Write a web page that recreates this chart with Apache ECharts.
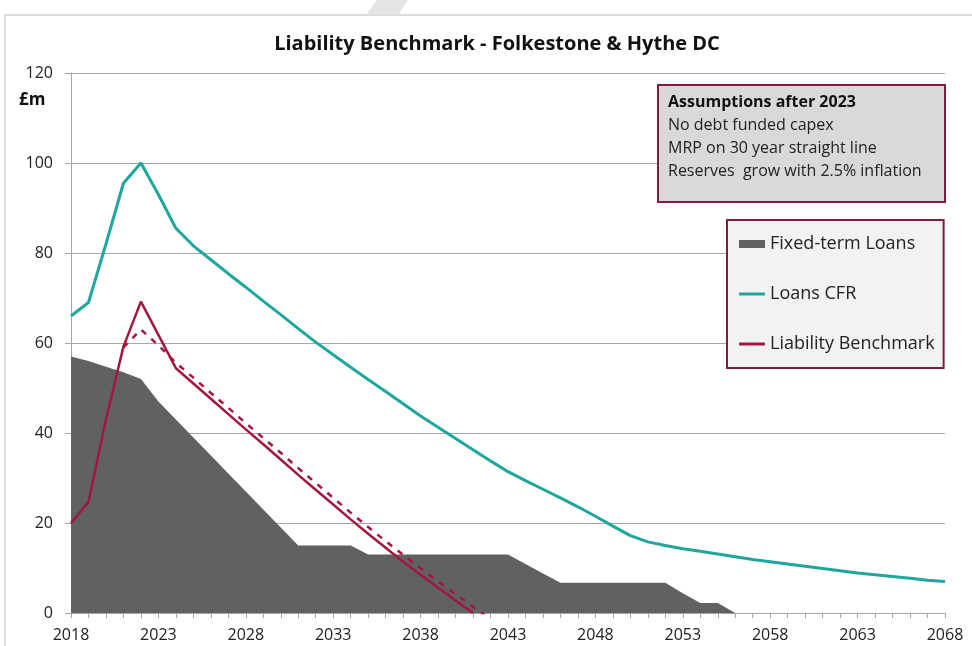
<!DOCTYPE html>
<html>
<head>
<meta charset="utf-8">
<script src="https://cdn.jsdelivr.net/npm/echarts@6/dist/echarts.min.js"></script>
<style>
    html, body { margin:0; padding:0; background:#fff; }
    #chart { width:972px; height:646px; }
</style>
</head>
<body>
<div id="chart"></div>
<script>
// years on the x axis
var years = ['2018','2019','2020','2021','2022','2023','2024','2025','2026','2027',
    '2028','2029','2030','2031','2032','2033','2034','2035','2036','2037',
    '2038','2039','2040','2041','2042','2043','2044','2045','2046','2047',
    '2048','2049','2050','2051','2052','2053','2054','2055','2056','2057',
    '2058','2059','2060','2061','2062','2063','2064','2065','2066','2067','2068']

// £m
var fixedLoans = [57,56,54.7,53.5,52,47,43,39,35,31,
    27,23,19,15,15,15,15,13,13,13,
    13,13,13,13,13,13,10.9,8.8,6.7,6.7,
    6.7,6.7,6.7,6.7,6.7,4.4,2.2,2.2,0,null,
    null,null,null,null,null,null,null,null,null,null,null]

var loansCFR = [66,69,82,95.5,100,93,85.5,81.6,78.5,75.4,
    72.4,69.3,66.3,63.2,60.2,57.4,54.6,51.9,49.2,46.5,
    43.8,41.3,38.8,36.3,33.8,31.4,29.4,27.5,25.6,23.6,
    21.5,19.3,17.2,15.8,15,14.3,13.7,13.1,12.5,11.9,
    11.4,10.9,10.4,9.9,9.4,8.9,8.5,8.1,7.7,7.3,7]

var liabilityBM = [20,24.7,43,59.2,69.2,61.8,54.4,51,47.6,44.2,
    40.8,37.5,34.1,30.7,27.4,24.1,20.8,17.6,14.5,11.4,
    8.5,5.6,2.8,0]

// dashed line (not in legend)
var liabilityBM2 = [null,null,null,59,63,59.5,55.6,52.3,48.9,45.6,
    42.2,38.9,35.6,32.2,28.9,25.6,22.3,19.1,16,12.9,
    9.9,7,4.2,1.4,-1.4]

var assumptions = ['No debt funded capex','MRP on 30 year straight line','Reserves  grow with 2.5% inflation']

var font = 'Open Sans'
var crimson = '#a3173f'
var teal = '#1ea79e'
var loanGrey = '#606163'
var boxLine = '#7b1f3d'
var gridGrey = '#a6a6a6'

// legend swatches: thin line / thick bar inside a 26x10 box
var lineIcon = 'path://M0,0L0,0M0,3.5L26,3.5L26,6.5L0,6.5ZM26,10L26,10'
var barIcon = 'path://M0,0L0,0M0,1L26,1L26,9L0,9ZM26,10L26,10'

var chart = echarts.init(document.getElementById('chart'))
var option = {
    backgroundColor: '#fff',
    animation: false,
    title: {
        text: 'Liability Benchmark - Folkestone & Hythe DC',
        left: 492,
        textAlign: 'center',
        top: 29,
        textStyle: { fontFamily: font, fontSize: 20, fontWeight: 'bold', color: '#111' }
    },
    grid: { left: 71, right: 27, top: 73, bottom: 33 },
    legend: {
        orient: 'vertical',
        left: 727,
        top: 220,
        padding: [15, 9, 15, 12],
        itemGap: 32,
        itemWidth: 26,
        itemHeight: 10,
        backgroundColor: '#f3f2f2',
        borderColor: boxLine,
        borderWidth: 2,
        textStyle: { fontFamily: font, fontSize: 18, color: '#222' },
        data: [
            { name: 'Fixed-term Loans', icon: barIcon },
            { name: 'Loans CFR', icon: lineIcon },
            { name: 'Liability Benchmark', icon: lineIcon }
        ]
    },
    xAxis: {
        type: 'category',
        boundaryGap: false,
        data: years,
        axisLine: { lineStyle: { color: gridGrey } },
        axisTick: { interval: 0, length: 5, lineStyle: { color: gridGrey } },
        axisLabel: { interval: 4, fontFamily: font, fontSize: 16, color: '#222', margin: 14 },
        splitLine: { show: false }
    },
    yAxis: {
        type: 'value',
        min: 0,
        max: 120,
        interval: 20,
        axisLine: { show: true, lineStyle: { color: gridGrey } },
        axisTick: { show: true, length: 6, lineStyle: { color: gridGrey } },
        axisLabel: { fontFamily: font, fontSize: 16, color: '#222', margin: 18 },
        splitLine: { lineStyle: { color: gridGrey } }
    },
    series: [{
        name: 'Fixed-term Loans',
        type: 'line',
        data: fixedLoans,
        symbol: 'none',
        itemStyle: { color: loanGrey },
        lineStyle: { width: 0 },
        areaStyle: { color: loanGrey, opacity: 1 },
        z: 1
    }, {
        name: 'Loans CFR',
        type: 'line',
        data: loansCFR,
        symbol: 'none',
        itemStyle: { color: teal },
        lineStyle: { width: 3, color: teal },
        z: 3
    }, {
        name: 'Liability Benchmark 2',
        type: 'line',
        data: liabilityBM2,
        symbol: 'none',
        clip: true,
        lineStyle: { width: 2.5, color: crimson, type: [6, 7] },
        z: 4
    }, {
        name: 'Liability Benchmark',
        type: 'line',
        data: liabilityBM,
        symbol: 'none',
        itemStyle: { color: crimson },
        lineStyle: { width: 2.5, color: crimson },
        z: 5
    }],
    graphic: [{
        // outer frame
        type: 'polyline',
        shape: { points: [[5, 646], [5, 15], [972, 15]] },
        style: { stroke: '#cfcfcf', lineWidth: 1.5, fill: null },
        silent: true
    }, {
        type: 'polygon',
        shape: { points: [[366, 15], [377, 0], [408, 0], [398, 15]] },
        style: { fill: '#e4e4e4' },
        silent: true
    }, {
        type: 'text',
        left: 19,
        top: 92,
        style: { text: '£m', fontFamily: font, fontSize: 17, fontWeight: 'bold', fill: '#111' }
    }, {
        type: 'rect',
        shape: { x: 658, y: 85, width: 287, height: 117 },
        style: { fill: '#d9d9d9', stroke: boxLine, lineWidth: 2 },
        z: 10
    }, {
        type: 'text',
        x: 668,
        y: 91,
        z: 11,
        style: {
            text: '{b|Assumptions after 2023}\n' + assumptions.join('\n'),
            fontFamily: font,
            fontSize: 16,
            lineHeight: 23,
            fill: '#222',
            rich: { b: { fontFamily: font, fontSize: 16, fontWeight: 'bold', lineHeight: 23, fill: '#111' } }
        }
    }]
}
chart.setOption(option)
</script>
</body>
</html>
